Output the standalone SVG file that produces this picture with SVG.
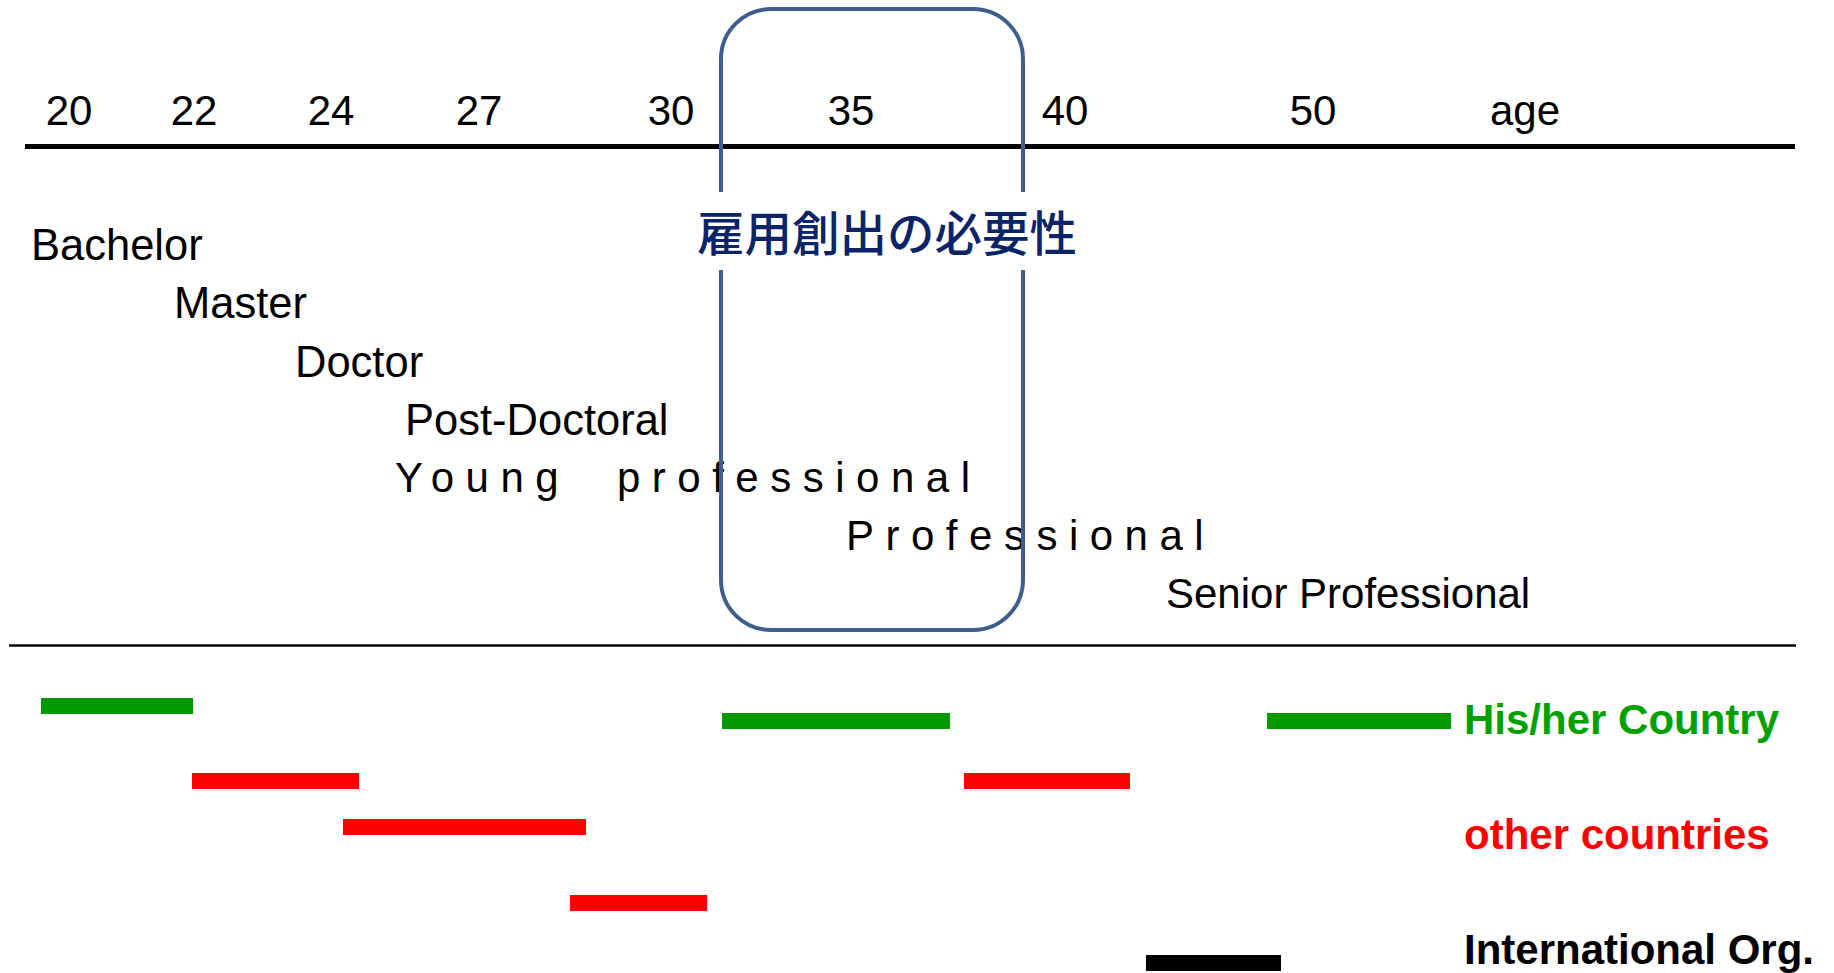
<svg xmlns="http://www.w3.org/2000/svg" width="1834" height="973" viewBox="0 0 1834 973">
  <style>
    .t { font-family: "Liberation Sans", Arial, sans-serif; font-size: 42px; fill: #000000; }
    .st { font-size: 43.5px; }
    .tick { text-anchor: middle; }
    .sp { letter-spacing: 11.5px; }
    .lg { font-family: "Liberation Sans", Arial, sans-serif; font-size: 42px; font-weight: bold; }
    .jp { font-family: "Noto Sans CJK JP", "Liberation Sans", sans-serif; font-size: 47.5px; font-weight: 500; fill: #0B2468; }
    .green { fill: #009900; }
    .red { fill: #FF0000; }
    .black { fill: #000000; }
  </style>
  <rect x="0" y="0" width="1834" height="973" fill="#FFFFFF"/>

  <g id="axis">
    <line x1="25" y1="146.5" x2="1795" y2="146.5" stroke="#000000" stroke-width="5"/>
    <line x1="9" y1="645.5" x2="1796" y2="645.5" stroke="#000000" stroke-width="2.5"/>
  </g>

  <g id="ages">
    <text class="t tick" x="69" y="125">20</text>
    <text class="t tick" x="194" y="125">22</text>
    <text class="t tick" x="331" y="125">24</text>
    <text class="t tick" x="479" y="125">27</text>
    <text class="t tick" x="671" y="125">30</text>
    <text class="t tick" x="851" y="125">35</text>
    <text class="t tick" x="1065" y="125">40</text>
    <text class="t tick" x="1313" y="125">50</text>
    <text class="t tick" x="1525" y="125">age</text>
  </g>

  <g id="stages">
    <text class="t st" x="31" y="260">Bachelor</text>
    <text class="t st" x="174" y="318">Master</text>
    <text class="t st" x="295" y="377">Doctor</text>
    <text class="t st" x="405" y="435">Post-Doctoral</text>
    <text class="t sp" y="492"><tspan x="395">Young</tspan><tspan x="617">professional</tspan></text>
    <text class="t sp" x="846" y="550">Professional</text>
    <text class="t" x="1166" y="608">Senior Professional</text>
  </g>

  <g id="highlight">
    <rect x="721" y="9" width="302" height="621" rx="50" ry="50" fill="none" stroke="#3E5F8D" stroke-width="4"/>
    <rect x="695" y="192" width="390" height="78" fill="#FFFFFF"/>
    <text class="jp" x="697" y="251">雇用創出の必要性</text>
  </g>

  <g id="bars">
    <rect class="green" x="41" y="698" width="152" height="16"/>
    <rect class="green" x="722" y="713" width="228" height="16"/>
    <rect class="green" x="1267" y="713" width="184" height="16"/>
    <rect class="red" x="192" y="773" width="167" height="16"/>
    <rect class="red" x="964" y="773" width="166" height="16"/>
    <rect class="red" x="343" y="819" width="243" height="16"/>
    <rect class="red" x="570" y="895" width="137" height="16"/>
    <rect class="black" x="1146" y="955" width="135" height="16"/>
  </g>

  <g id="legend">
    <text class="lg" x="1464" y="734" fill="#00A000">His/her Country</text>
    <text class="lg" x="1464" y="849" fill="#FF0000">other countries</text>
    <text class="lg" x="1464" y="964" fill="#000000">International Org.</text>
  </g>
</svg>
